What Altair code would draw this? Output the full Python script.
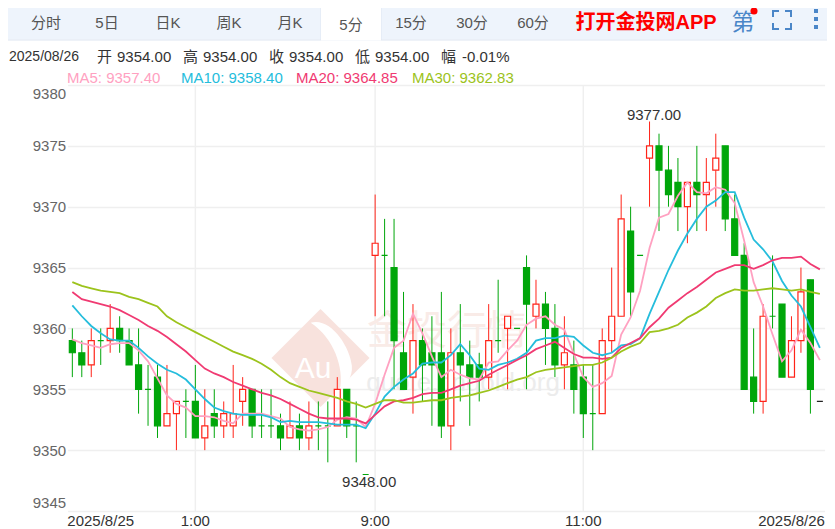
import altair as alt
import pandas as pd

opens = [9359,9358,9357,9359,9359,9360,9359,9357,9355,9356,9352,9353,9354,9354,9351,9353,9352,9352,9354,9355,
         9352,9352,9352,9351,9352,9351,9352,9352,9352,9355,9352,9348,9366,9366,9365,9358,9356,9359,9358,9358,
         9352,9358,9357,9357,9356,9359,9360,9360,9365,9361,9362,9360,9357,9357,9356,9353,9353,9359,9361,9368,
         9366,9374,9375,9373,9372,9370,9372,9371,9373,9375,9369,9366,9356,9354,9361,9362,9356,9359,9364,9354]
closes = [9358,9357,9359,9359,9360,9359,9357,9355,9355,9352,9353,9354,9354,9351,9352,9352,9353,9353,9355,9352,
          9352,9352,9351,9352,9351,9352,9352,9352,9355,9352,9352,9348,9367,9366,9359,9355,9359,9357,9357,9352,
          9358,9357,9356,9356,9359,9359,9361,9360,9362,9362,9360,9357,9358,9355,9353,9353,9359,9361,9369,9363,
          9366,9375,9373,9371,9370,9372,9371,9372,9374,9369,9366,9355,9354,9361,9361,9356,9359,9363,9355,9354]
highs = [9360,9359,9360,9360,9362,9361,9360,9360,9357,9357,9357,9354,9355,9357,9355,9355,9354,9357,9356,9355,
         9355,9355,9353,9354,9353,9354,9354,9354,9356,9355,9354,9348,9371,9369,9369,9363,9362,9360,9361,9363,
         9360,9362,9359,9358,9362,9364,9361,9360,9366,9364,9363,9362,9361,9359,9357,9357,9360,9365,9371,9370,
         9366,9377,9376,9375,9374,9372,9375,9374,9376,9375,9371,9367,9360,9362,9366,9362,9361,9365,9364,9354]
lows = [9356,9356,9356,9357,9358,9358,9357,9353,9352,9351,9352,9350,9351,9351,9350,9351,9351,9351,9352,9351,
        9351,9351,9350,9351,9350,9350,9350,9349,9352,9351,9349,9348,9361,9361,9355,9355,9353,9354,9352,9351,
        9350,9354,9352,9354,9355,9358,9355,9360,9355,9360,9357,9356,9355,9353,9351,9350,9353,9358,9361,9361,
        9366,9370,9368,9370,9368,9367,9368,9368,9370,9368,9366,9355,9353,9353,9360,9356,9356,9358,9353,9354]
ma5 = [9359.1,9358.8,9358.6,9358.4,9358.7,9358.8,9358.8,9358.2,9357.3,9355.9,9354.5,9353.8,9353.5,9352.8,9352.8,9352.7,
       9352.4,9352.2,9353,9353,9353,9352.8,9352.6,9351.9,9351.7,9351.6,9351.7,9351.9,9352.5,9352.7,9352.6,9351.9,
       9353.8,9356.2,9358.4,9359,9361.2,9359.6,9357.7,9356,9356.6,9356.2,9355.9,9355.8,9357.2,9357.3,9358.2,9359,
       9360.3,9360.8,9361,9360.3,9359.9,9357.9,9356,9355.2,9355.5,9356.1,9359.5,9360.9,9363.1,9366.6,9369.1,9369.4,
       9370.9,9372,9371.2,9371.1,9371.6,9371.4,9370.3,9367.2,9363.8,9361.8,9359.5,9357.3,9358.2,9359.9,9358.8,9357.4]
ma10 = [9361.9,9361,9360.2,9359.6,9359.1,9359,9359,9358.4,9357.7,9357.1,9356.6,9356.3,9355.8,9355,9354.2,9353.5,
        9353.2,9353,9352.9,9352.9,9352.9,9352.7,9352.3,9352.4,9352.3,9352.3,9352.3,9352.2,9352.1,9352.1,9352.1,9351.8,
        9353,9354.4,9355.2,9355.8,9356.3,9357.1,9357.2,9357.2,9357.8,9358.7,9357.8,9356.7,9356.6,9357,9357.2,9357.5,
        9358,9359,9359.2,9359.2,9359.4,9359.3,9358.6,9358,9357.8,9358,9358.6,9358.7,9359.2,9361.2,9363,9364.8,
        9366.4,9367.8,9369,9370,9370.5,9371.2,9371.2,9369.1,9367.3,9366.5,9365.5,9363.9,9362.7,9361.8,9360.1,9358.4]
ma20 = [9363,9362.4,9362.2,9362,9361.8,9361.5,9361.1,9360.7,9360.2,9359.8,9359.3,9358.7,9358.1,9357.4,9356.7,9356.3,
        9356,9355.6,9355.3,9355,9354.7,9354.5,9354.2,9353.8,9353.4,9353,9352.7,9352.6,9352.6,9352.6,9352.5,9352.2,
        9352.9,9353.6,9354,9354.1,9354.3,9354.6,9354.7,9354.7,9355,9355.3,9355.5,9355.7,9356.2,9356.6,9357,9357.4,
        9357.8,9358.3,9358.6,9358.9,9358.4,9357.9,9357.6,9357.6,9357.5,9357.6,9358.4,9358.8,9359.2,9360.1,9360.8,9361.7,
        9362.3,9362.9,9363.4,9364,9364.6,9364.9,9365.2,9365.2,9364.9,9365.2,9365.6,9365.8,9365.8,9365.9,9365.3,9364.85]
ma30 = [9363.8,9363.5,9363.3,9363.1,9363,9362.9,9362.6,9362.4,9362.1,9361.8,9361,9360.5,9360.1,9359.7,9359.3,9358.9,
        9358.5,9358.1,9357.8,9357.5,9357.1,9356.6,9356,9355.5,9355.2,9354.9,9354.7,9354.5,9354.3,9354,9353.8,9353.5,
        9353.8,9354.1,9354.1,9353.9,9353.9,9354,9354.1,9354.1,9354.3,9354.4,9354.5,9354.7,9354.9,9355.2,9355.5,9355.8,
        9356,9356.4,9356.6,9356.7,9356.8,9356.9,9357,9357,9357.2,9357.6,9358.1,9358.5,9358.8,9359.7,9359.8,9360,
        9360.3,9360.9,9361.3,9361.8,9362.5,9362.9,9363.2,9363.1,9363.1,9363.2,9363.3,9363.2,9363.1,9363.2,9363,9362.83]

tabs = ["分时", "5日", "日K", "周K", "月K", "5分", "15分", "30分", "60分"]
banner = "打开金投网APP"
info_date = "2025/08/26"
info_labels = ["开", "高", "收", "低", "幅"]
info_values = ["9354.00", "9354.00", "9354.00", "9354.00", "-0.01%"]
ma_names = ["MA5", "MA10", "MA20", "MA30"]
ma_texts = ["MA5: 9357.40", "MA10: 9358.40", "MA20: 9364.85", "MA30: 9362.83"]
x_tick_index = [0, 13, 32, 54, 79]
x_tick_text = ["2025/8/25", "1:00", "9:00", "11:00", "2025/8/26"]
y_ticks = [9345, 9350, 9355, 9360, 9365, 9370, 9375, 9380]

FONT = "Liberation Sans, Noto Sans CJK SC"
GREEN, RED, DARK = "#00a60a", "#ff2318", "#222222"
MA_COL = ["#ffa1c1", "#25bddc", "#f03a72", "#9cc31c"]

n = len(opens)
idx = list(range(n))
df = pd.DataFrame({"i": idx, "open": opens, "close": closes, "high": highs, "low": lows})
df["kind"] = ["up" if c > o else "down" for o, c in zip(opens, closes)]
df.loc[n - 1, "kind"] = "last"

ma_df = pd.concat([pd.DataFrame({"i": idx, "v": s, "name": nm})
                   for s, nm in zip([ma5, ma10, ma20, ma30], ma_names)])

PLOT_L, PLOT_T, W, H = 67.6, 85, 757, 426
X = lambda r: r - PLOT_L
Y = lambda r: r - PLOT_T
one = pd.DataFrame({"a": [0]})
xs = alt.X("i:O", scale=alt.Scale(domain=idx, paddingInner=0, paddingOuter=0), axis=None)
ys = alt.Y("v:Q", scale=alt.Scale(domain=[9345, 9380], nice=False, zero=False))


def txt(s, rx, ry, size=15, color="#555555", align="left", bold=False, opacity=None, angle=None):
    kw = dict(font=FONT, fontSize=size, color=color, align=align, baseline="middle",
              fontWeight="bold" if bold else "normal", text=s)
    if opacity is not None:
        kw["opacity"] = opacity
    if angle is not None:
        kw["angle"] = angle
    return alt.Chart(one).mark_text(**kw).encode(x=alt.value(X(rx)), y=alt.value(Y(ry)))


def box(x0, x1, y0, y1, color):
    return alt.Chart(one).mark_rect(color=color).encode(
        x=alt.value(X(x0)), x2=alt.value(X(x1)), y=alt.value(Y(y0)), y2=alt.value(Y(y1)))


def symbol(rx, ry, shape, size, color):
    return alt.Chart(one).mark_point(shape=shape, size=size, filled=True, color=color, opacity=1,
                                     strokeWidth=0).encode(x=alt.value(X(rx)), y=alt.value(Y(ry)))


layers = []

# y axis + grid
layers.append(alt.Chart(pd.DataFrame({"v": y_ticks})).mark_point(opacity=0).encode(
    y=alt.Y("v:Q", scale=alt.Scale(domain=[9345, 9380], nice=False, zero=False),
            axis=alt.Axis(values=y_ticks, title=None, domain=False, ticks=False, format="d",
                          grid=True, gridColor="#efefef", gridWidth=1.5, labelColor="#666666",
                          labelFont=FONT, labelFontSize=15, labelPadding=2,
                          labelFlush=True, labelFlushOffset=-1))))

# vertical grid
layers.append(alt.Chart(pd.DataFrame({"i": x_tick_index[1:4]})).mark_rule(color="#efefef", strokeWidth=1.5).encode(x=xs))

# watermark
DIAMOND = "M0,-0.5 L0.5,0 L0,0.5 L-0.5,0 Z"
SWOOSH = ("M-0.1,-0.36 C0.1,-0.42 0.3,-0.12 0.32,0.08 C0.33,0.2 0.26,0.28 0.2,0.32 "
          "C0.24,0.1 0.14,-0.2 -0.1,-0.36 Z")
WM_SIZE = 38400
layers.append(symbol(320.5, 358, DIAMOND, WM_SIZE, "#f8e2dd"))
layers.append(symbol(320.5, 358, SWOOSH, WM_SIZE, "#ffffff"))
layers.append(txt("Au", 313, 369, size=30, color="#ffffff", align="center"))
layers.append(txt("金投行情", 447, 332, size=40, color="#f9ebe7", align="center"))
layers.append(txt("quote.cngold.org", 463, 383, size=26, color="#ececec", align="center"))

# candles
layers.append(alt.Chart(df[df.high > df.low]).mark_rule(strokeWidth=1).encode(
    x=xs, y=alt.Y("low:Q", scale=alt.Scale(domain=[9345, 9380], nice=False, zero=False)), y2="high:Q",
    color=alt.Color("kind:N", scale=alt.Scale(domain=["up", "down", "last"], range=[RED, GREEN, DARK]), legend=None)))
layers.append(alt.Chart(df).mark_bar(size=6, strokeWidth=1.2).encode(
    x=xs, y=alt.Y("open:Q", scale=alt.Scale(domain=[9345, 9380], nice=False, zero=False)), y2="close:Q",
    fill=alt.Fill("kind:N", scale=alt.Scale(domain=["up", "down", "last"], range=["#ffffff", GREEN, DARK]), legend=None),
    stroke=alt.Stroke("kind:N", scale=alt.Scale(domain=["up", "down", "last"], range=[RED, GREEN, DARK]), legend=None)))

# moving averages
for nm, col in zip(ma_names, MA_COL):
    layers.append(alt.Chart(ma_df[ma_df.name == nm]).mark_line(color=col, strokeWidth=1.8).encode(x=xs, y=ys))

# extreme labels
hi = df.loc[[df.high.idxmax()]]
lo = df.loc[[df.low.idxmin()]]
layers.append(alt.Chart(hi).mark_text(font=FONT, fontSize=15, color="#333333", dx=4.5, dy=-7, baseline="middle",
                                      text="9377.00").encode(x=xs, y=alt.Y("high:Q", scale=alt.Scale(domain=[9345, 9380], nice=False, zero=False))))
layers.append(alt.Chart(lo).mark_text(font=FONT, fontSize=15, color="#333333", dx=3.5, dy=8, baseline="middle",
                                      text="9348.00").encode(x=xs, y=alt.Y("low:Q", scale=alt.Scale(domain=[9345, 9380], nice=False, zero=False))))

# x labels
for k, (ti, tt) in enumerate(zip(x_tick_index, x_tick_text)):
    align = "left" if k == 0 else ("right" if k == len(x_tick_index) - 1 else "center")
    dx = -5 if k == 0 else (5 if k == len(x_tick_index) - 1 else 0)
    layers.append(alt.Chart(pd.DataFrame({"i": [ti]})).mark_text(
        font=FONT, fontSize=15, color="#333333", align=align, dx=dx, baseline="middle", text=tt
    ).encode(x=xs, y=alt.value(Y(521))))

# toolbar
layers.append(box(0, 835, 2, 39.5, "#eef4fc"))
layers.append(box(0, 835, 39.5, 40.5, "#dde6f2"))
layers.append(box(321, 381, 7, 40.5, "#ffffff"))
layers.append(box(321, 381, 6, 8, "#1b3a87"))
layers.append(box(320.5, 321, 8, 40, "#dde6f2"))
layers.append(box(381, 381.5, 8, 40, "#dde6f2"))
for s, cx, cy in zip(tabs, [46, 107, 168, 229, 290, 351, 411, 472, 533], [23, 23, 23, 23, 23, 25, 23, 23, 23]):
    layers.append(txt(s, cx, cy, color="#555555", align="center"))
layers.append(txt(banner, 646, 22.5, size=20, color="#ff0000", align="center", bold=True))
layers.append(txt("第", 743, 23, size=23, color="#4a86c8", align="center"))
layers.append(symbol(754, 11, "circle", 50, "#ff0000"))
# full-screen brackets
for (a, b, c, d) in [(772, 779, 10, 12), (772, 774, 10, 17), (785, 792, 10, 12), (790, 792, 10, 17),
                     (772, 779, 28, 30), (772, 774, 23, 30), (785, 792, 28, 30), (790, 792, 23, 30)]:
    layers.append(box(a, b, c, d, "#4a86c8"))
for cy in [11, 19, 27]:
    layers.append(box(814, 818, cy - 2, cy + 2, "#4a86c8"))

# info rows
layers.append(txt(info_date, 9, 57, size=14, color="#333333"))
for s, lx, v, vx in zip(info_labels, [97, 183, 269, 355, 441], info_values, [117, 203, 289, 375, 462]):
    layers.append(txt(s, lx, 57, color="#333333"))
    layers.append(txt(v, vx, 57, color="#333333"))
for s, col, lx in zip(ma_texts, MA_COL, [67, 181, 296, 412]):
    layers.append(txt(s, lx, 78, color=col))

chart = alt.layer(*layers).resolve_scale(x="shared", y="shared").properties(
    width=W, height=H, autosize="none",
    padding={"left": PLOT_L - 8, "top": PLOT_T - 8, "right": 835 - 8 - PLOT_L - W, "bottom": 17},
    background="#ffffff"
).configure_view(stroke=None).configure_axis(labelFont=FONT)

chart.save("out.html", embed_options={"renderer": "svg", "actions": False})
